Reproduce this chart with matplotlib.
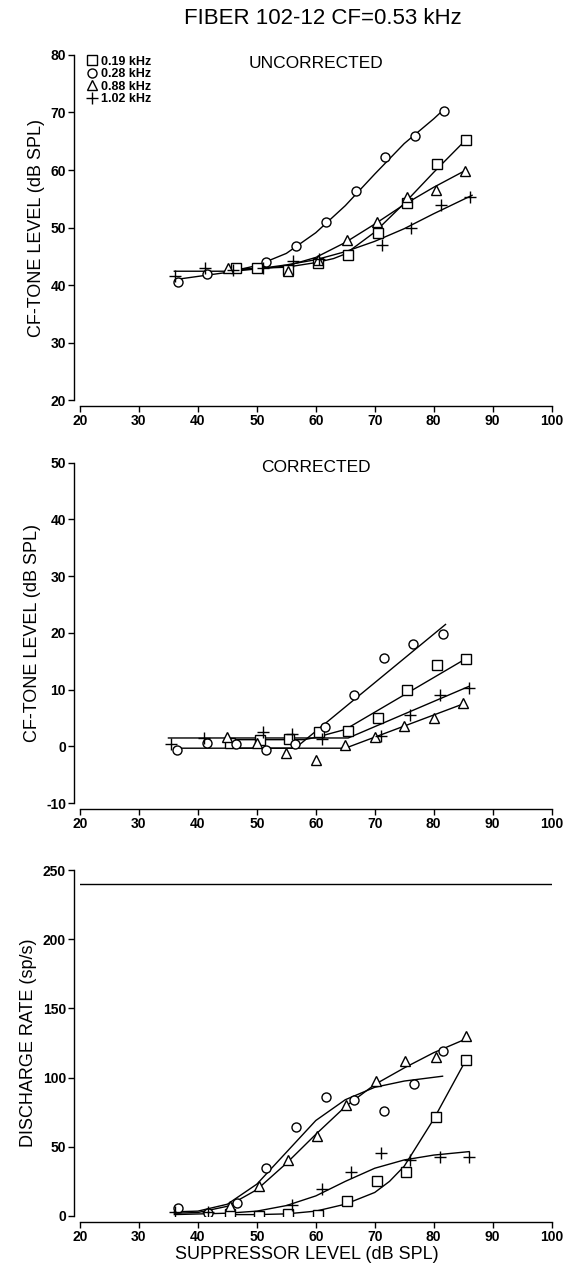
import matplotlib
matplotlib.use("Agg")
import matplotlib.pyplot as plt

plt.rcParams['font.family'] = ['Liberation Sans', 'DejaVu Sans']
plt.rcParams['axes.unicode_minus'] = False

# ---- top panel: uncorrected CF-tone level (dB SPL)
up_sq_x = [46.5, 50.0, 55.3, 60.4, 65.5, 70.5, 75.4, 80.6, 85.5]
up_sq_y = [42.9, 43.0, 42.6, 43.9, 45.2, 49.0, 54.2, 61.0, 65.2]
up_ci_x = [36.7, 41.6, 51.6, 56.6, 61.7, 66.8, 71.7, 76.9, 81.7]
up_ci_y = [40.6, 42.0, 44.0, 46.8, 51.0, 56.3, 62.3, 66.0, 70.3]
up_tr_x = [45.1, 55.2, 60.4, 65.3, 70.3, 75.4, 80.4, 85.3]
up_tr_y = [42.9, 42.4, 44.4, 47.8, 51.0, 55.3, 56.5, 59.8]
up_pl_x = [36.1, 41.2, 46.0, 51.0, 56.2, 60.6, 71.2, 76.2, 81.3, 86.2]
up_pl_y = [41.6, 43.0, 42.6, 43.0, 44.2, 44.6, 47.0, 50.0, 53.9, 55.3]

up_fit_sq_x = [45, 50, 55, 60, 63, 65, 70, 75, 80, 85.5]
up_fit_sq_y = [42.8, 42.9, 43.1, 43.9, 44.6, 45.4, 49.2, 54.2, 59.6, 65.3]
up_fit_ci_x = [36.5, 40, 45, 50, 55, 60, 65, 70, 75, 80, 82]
up_fit_ci_y = [41.0, 41.5, 42.2, 43.4, 45.5, 49.1, 53.8, 59.3, 64.6, 68.9, 70.8]
up_fit_tr_x = [45, 50, 55, 60, 65, 70, 75, 80, 85.5]
up_fit_tr_y = [42.6, 42.8, 43.3, 44.8, 47.4, 50.6, 54.0, 57.0, 60.0]
up_fit_pl_x = [36, 46, 50, 55, 60, 65, 70, 75, 80, 86.5]
up_fit_pl_y = [42.4, 42.4, 42.8, 43.5, 44.4, 45.8, 47.6, 49.8, 52.4, 55.6]

# ---- middle panel: corrected CF-tone level (dB SPL)
cp_sq_x = [45.5, 50.5, 55.5, 60.5, 65.5, 70.5, 75.5, 80.5, 85.5]
cp_sq_y = [0.6, 1.2, 1.4, 2.5, 2.7, 5.0, 10.0, 14.3, 15.4]
cp_ci_x = [36.5, 41.5, 46.5, 51.5, 56.5, 61.5, 66.5, 71.5, 76.5, 81.5]
cp_ci_y = [-0.6, 0.6, 0.5, -0.6, 0.5, 3.4, 9.0, 15.6, 18.0, 19.8]
cp_tr_x = [45.0, 50.0, 55.0, 60.0, 65.0, 70.0, 75.0, 80.0, 85.0]
cp_tr_y = [1.6, 0.6, -1.2, -2.3, 0.2, 1.6, 3.6, 5.0, 7.6]
cp_pl_x = [35.5, 41.0, 51.0, 56.0, 61.0, 71.0, 76.0, 81.0, 86.0]
cp_pl_y = [0.4, 1.5, 2.5, 2.2, 1.3, 1.8, 5.5, 9.0, 10.3]

cp_fit_sq_x = [45, 58, 60, 65, 86]
cp_fit_sq_y = [1.2, 1.2, 1.6, 3.0, 15.8]
cp_fit_ci_x = [36, 56.5, 82]
cp_fit_ci_y = [-0.3, -0.3, 21.5]
cp_fit_tr_x = [45, 65, 85]
cp_fit_tr_y = [-0.3, -0.3, 7.5]
cp_fit_pl_x = [35, 65.5, 86]
cp_fit_pl_y = [1.5, 1.5, 10.6]

# ---- bottom panel: discharge rate (sp/s)
dr_sq_x = [45.5, 50.4, 55.3, 60.3, 65.3, 70.3, 75.3, 80.4, 85.5]
dr_sq_y = [1.4, 0.2, 1.4, 0.7, 10.8, 25.5, 32.0, 71.6, 113.0]
dr_ci_x = [36.7, 41.7, 46.6, 51.6, 56.6, 61.7, 66.5, 71.6, 76.6, 81.6]
dr_ci_y = [5.5, 1.9, 9.1, 34.4, 64.4, 86.1, 83.7, 76.0, 95.2, 119.0]
dr_tr_x = [45.5, 50.3, 55.2, 60.2, 65.2, 70.2, 75.2, 80.3, 85.4]
dr_tr_y = [7.2, 21.6, 40.4, 57.9, 80.5, 97.6, 111.8, 114.9, 129.8]
dr_pl_x = [36.1, 41.7, 55.9, 61.0, 66.0, 71.1, 76.0, 81.1, 86.0]
dr_pl_y = [3.1, 2.6, 7.9, 19.2, 32.0, 45.7, 40.4, 42.8, 42.8]

dr_fit_sq_x = [45, 50, 55, 60, 65, 70, 72.5, 75, 80, 85.5]
dr_fit_sq_y = [1, 1, 1.5, 3.5, 8.5, 17.0, 25.0, 36.0, 70.0, 113.0]
dr_fit_ci_x = [36, 40, 45, 50, 55, 60, 65, 70, 75, 81.5]
dr_fit_ci_y = [3, 3.5, 8.5, 23.0, 46.0, 69.0, 84.0, 93.0, 97.5, 101.0]
dr_fit_tr_x = [36, 40, 45, 50, 55, 60, 65, 70, 75, 80, 85.5]
dr_fit_tr_y = [2, 2.5, 7.0, 19.0, 38.0, 59.0, 79.0, 95.0, 107.0, 118.0, 128.0]
dr_fit_pl_x = [36, 45, 50, 55, 60, 65, 70, 75, 80, 86]
dr_fit_pl_y = [1, 2, 3.5, 7.5, 14.5, 25.0, 34.5, 40.5, 44.0, 46.5]

spont_rate = 240

labels = ['0.19 kHz', '0.28 kHz', '0.88 kHz', '1.02 kHz']
markers = ['s', 'o', '^', '+']

fig = plt.figure(figsize=(5.71, 12.64), dpi=100)
left, width = 0.1401, 0.826
ax1 = fig.add_axes([left, 0.6835, width, 0.273])
ax2 = fig.add_axes([left, 0.3645, width, 0.2695])
ax3 = fig.add_axes([left, 0.0380, width, 0.2737])


def style(ax, ylim, yticks):
    ax.set_xlim(20, 100)
    ax.set_ylim(*ylim)
    ax.set_xticks(range(20, 101, 10))
    ax.set_yticks(yticks)
    for s in ['top', 'right']:
        ax.spines[s].set_visible(False)
    for s in ['left', 'bottom']:
        ax.spines[s].set_position(('outward', 4))
        ax.spines[s].set_linewidth(1.0)
    ax.tick_params(direction='out', length=4, width=1, labelsize=10, pad=2)
    for t in ax.get_xticklabels() + ax.get_yticklabels():
        t.set_fontweight('bold')


def draw(ax, pts, fits):
    handles = []
    for (px, py), m, lab in zip(pts, markers, labels):
        if m == '+':
            h, = ax.plot(px, py, linestyle='none', marker='+', ms=8.5, mew=1.0,
                         color='black', label=lab)
        else:
            h, = ax.plot(px, py, linestyle='none', marker=m, ms=6.5, mew=1.0,
                         mfc='white', mec='black', label=lab)
        handles.append(h)
    for fx, fy in fits:
        ax.plot(fx, fy, color='black', lw=1.0, zorder=1)
    return handles


h = draw(ax1,
         [(up_sq_x, up_sq_y), (up_ci_x, up_ci_y), (up_tr_x, up_tr_y), (up_pl_x, up_pl_y)],
         [(up_fit_sq_x, up_fit_sq_y), (up_fit_ci_x, up_fit_ci_y),
          (up_fit_tr_x, up_fit_tr_y), (up_fit_pl_x, up_fit_pl_y)])
style(ax1, (20, 80), range(20, 81, 10))
leg = ax1.legend(handles=h, loc='upper left', bbox_to_anchor=(0.0, 1.02), frameon=False,
                 handlelength=0.8, handletextpad=0.3, labelspacing=0.05,
                 borderaxespad=0.2, prop={'size': 9, 'weight': 'bold'})
ax1.text(0.5, 0.975, 'UNCORRECTED', transform=ax1.transAxes, ha='center',
         va='center', fontsize=12.5)
ax1.set_ylabel('CF-TONE LEVEL (dB SPL)', fontsize=13, labelpad=4)

draw(ax2,
     [(cp_sq_x, cp_sq_y), (cp_ci_x, cp_ci_y), (cp_tr_x, cp_tr_y), (cp_pl_x, cp_pl_y)],
     [(cp_fit_sq_x, cp_fit_sq_y), (cp_fit_ci_x, cp_fit_ci_y),
      (cp_fit_tr_x, cp_fit_tr_y), (cp_fit_pl_x, cp_fit_pl_y)])
style(ax2, (-10, 50), range(-10, 51, 10))
ax2.text(0.5, 0.985, 'CORRECTED', transform=ax2.transAxes, ha='center',
         va='center', fontsize=12.5)
ax2.set_ylabel('CF-TONE LEVEL (dB SPL)', fontsize=13, labelpad=4)

draw(ax3,
     [(dr_sq_x, dr_sq_y), (dr_ci_x, dr_ci_y), (dr_tr_x, dr_tr_y), (dr_pl_x, dr_pl_y)],
     [(dr_fit_sq_x, dr_fit_sq_y), (dr_fit_ci_x, dr_fit_ci_y),
      (dr_fit_tr_x, dr_fit_tr_y), (dr_fit_pl_x, dr_fit_pl_y)])
ax3.axhline(spont_rate, color='black', lw=1.0)
style(ax3, (0, 250), range(0, 251, 50))
ax3.set_ylabel('DISCHARGE RATE (sp/s)', fontsize=13, labelpad=4)
ax3.set_xlabel('SUPPRESSOR LEVEL (dB SPL)', fontsize=13)
ax3.xaxis.set_label_coords(0.48, -0.088)

fig.text(0.565, 0.985, 'FIBER 102-12 CF=0.53 kHz', ha='center', va='center', fontsize=16)

fig.savefig('out.png', dpi=100)
